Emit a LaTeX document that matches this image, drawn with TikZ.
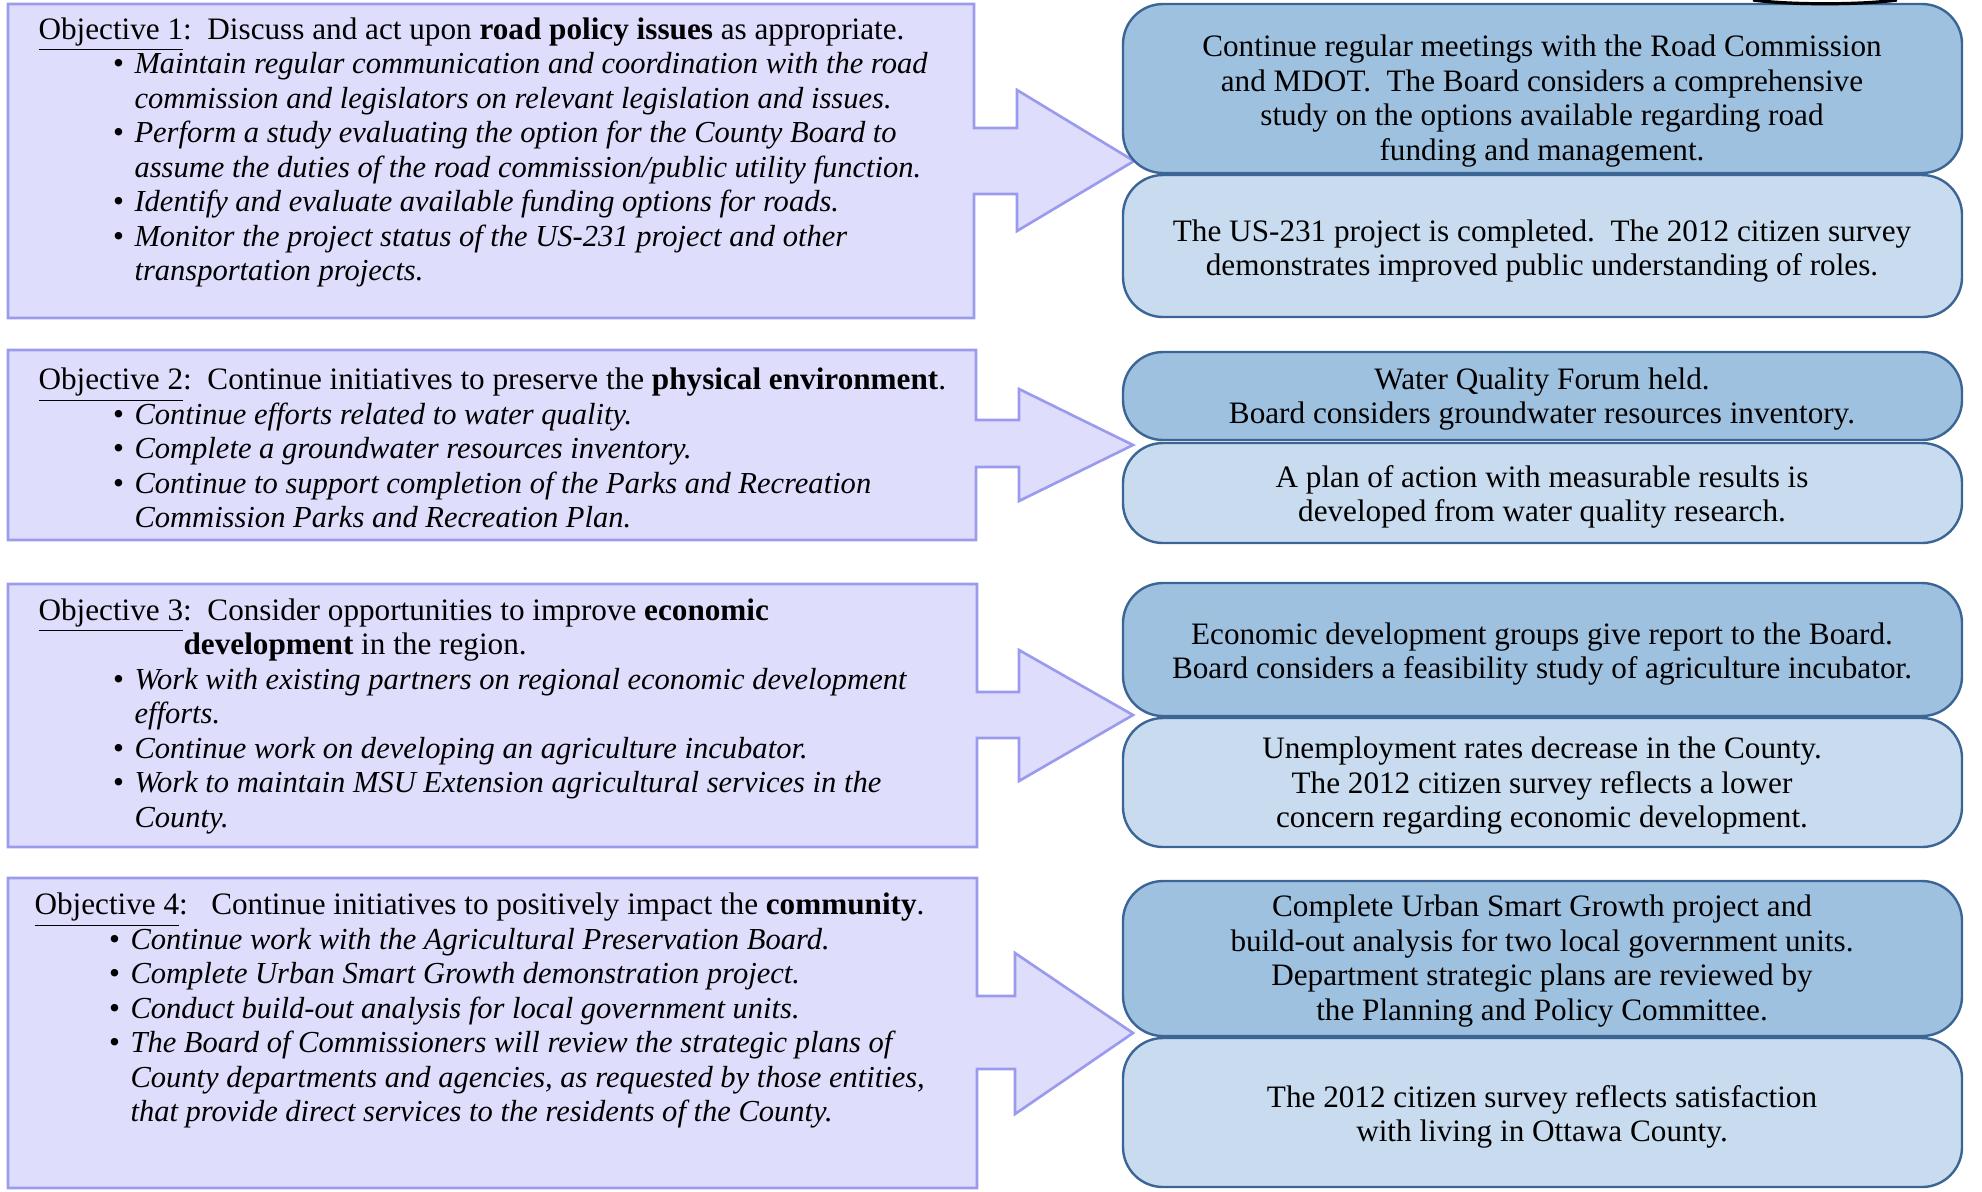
\documentclass[tikz,border=0pt]{standalone}
\usepackage{fontspec}
\setmainfont{Liberation Serif}
\definecolor{lfill}{HTML}{DEDEFC}
\definecolor{lborder}{HTML}{9B9BEE}
\definecolor{rdark}{HTML}{9FC1E0}
\definecolor{rlight}{HTML}{C9DBEE}
\definecolor{rborder}{HTML}{3A6594}
\newcommand\blt{\hspace*{28pt}\makebox[8pt][l]{\textbullet}}
\newcommand\cnt{\hspace*{36pt}}
\newcommand\itx[1]{{\fontsize{11.45}{12.94}\selectfont\itshape #1}}
\begin{document}
\begin{tikzpicture}[x=0.375pt,y=-0.375pt,
  lbox/.style={draw=lborder, fill=lfill, line width=1pt, line join=miter},
  rtop/.style={draw=rborder, fill=rdark, line width=0.9pt, rounded corners=15pt},
  rbot/.style={draw=rborder, fill=rlight, line width=0.9pt, rounded corners=15pt},
  ltext/.style={anchor=west, align=left, inner sep=0pt, font=\fontsize{11.7}{12.94}\selectfont},
  rtext/.style={align=center, inner sep=0pt, font=\fontsize{11.7}{12.94}\selectfont}]
\useasboundingbox (0,0) rectangle (1982,1191);

% left boxes with block arrows
\draw[lbox] (8,4) -- (974,4) -- (974,128) -- (1017,128) -- (1017,90) -- (1134,161)
  -- (1017,231) -- (1017,194) -- (974,194) -- (974,318) -- (8,318) -- cycle;
\draw[lbox] (8,350) -- (976,350) -- (976,420) -- (1019,420) -- (1019,389) -- (1133,445)
  -- (1019,501) -- (1019,467) -- (976,467) -- (976,540) -- (8,540) -- cycle;
\draw[lbox] (8,584) -- (977,584) -- (977,692) -- (1019,692) -- (1019,650) -- (1133,715)
  -- (1019,781) -- (1019,738) -- (977,738) -- (977,847) -- (8,847) -- cycle;
\draw[lbox] (8,878) -- (977,878) -- (977,996) -- (1015,996) -- (1015,953) -- (1133,1033)
  -- (1015,1114) -- (1015,1069) -- (977,1069) -- (977,1188) -- (8,1188) -- cycle;

% right rounded boxes
\draw[rtop] (1123,4) rectangle (1962,173);
\draw[rbot] (1123,175) rectangle (1962,317);
\draw[rtop] (1123,352) rectangle (1962,440);
\draw[rbot] (1123,443) rectangle (1962,543);
\draw[rtop] (1123,583) rectangle (1962,716);
\draw[rbot] (1123,718) rectangle (1962,847);
\draw[rtop] (1123,881) rectangle (1962,1036);
\draw[rbot] (1123,1038) rectangle (1962,1187);

% partial black ellipse at the top edge
\draw[line width=1.2pt] (1753,0) .. controls (1790,5) and (1860,5) .. (1897,0);

% left texts
\node[ltext] (o1) at (38,152.5) {\underline{Objective 1}:\ \ Discuss and act upon \textbf{road policy issues} as appropriate.\\
\blt\itx{Maintain regular communication and coordination with the road}\\
\cnt\itx{commission and legislators on relevant legislation and issues.}\\
\blt\itx{Perform a study evaluating the option for the County Board to}\\
\cnt\itx{assume the duties of the road commission/public utility function.}\\
\blt\itx{Identify and evaluate available funding options for roads.}\\
\blt\itx{Monitor the project status of the US-231 project and other}\\
\cnt\itx{transportation projects.}};

\node[ltext] (o2) at (38,448.3) {\underline{Objective 2}:\ \ Continue initiatives to preserve the \textbf{physical environment}.\\
\blt\itx{Continue efforts related to water quality.}\\
\blt\itx{Complete a groundwater resources inventory.}\\
\blt\itx{Continue to support completion of the Parks and Recreation}\\
\cnt\itx{Commission Parks and Recreation Plan.}};

\node[ltext] (o3) at (38,716.3) {\underline{Objective 3}:\ \ Consider opportunities to improve \textbf{economic}\\
\hspace*{54.4pt}\textbf{development} in the region.\\
\blt\itx{Work with existing partners on regional economic development}\\
\cnt\itx{efforts.}\\
\blt\itx{Continue work on developing an agriculture incubator.}\\
\blt\itx{Work to maintain MSU Extension agricultural services in the}\\
\cnt\itx{County.}};

\node[ltext] (o4) at (34,1010.8) {\underline{Objective 4}:\ \ \ Continue initiatives to positively impact the \textbf{community}.\\
\blt\itx{Continue work with the Agricultural Preservation Board.}\\
\blt\itx{Complete Urban Smart Growth demonstration project.}\\
\blt\itx{Conduct build-out analysis for local government units.}\\
\blt\itx{The Board of Commissioners will review the strategic plans of}\\
\cnt\itx{County departments and agencies, as requested by those entities,}\\
\cnt\itx{that provide direct services to the residents of the County.}};

% right texts
\node[rtext] (r1a) at (1542,101) {Continue regular meetings with the Road Commission\\
and MDOT.\ \ The Board considers a comprehensive\\
study on the options available regarding road\\
funding and management.};
\node[rtext] (r1b) at (1542,251) {The US-231 project is completed.\ \ The 2012 citizen survey\\
demonstrates improved public understanding of roles.};
\node[rtext] (r2a) at (1542,399) {Water Quality Forum held.\\
Board considers groundwater resources inventory.};
\node[rtext] (r2b) at (1542,497) {A plan of action with measurable results is\\
developed from water quality research.};
\node[rtext] (r3a) at (1542,654) {Economic development groups give report to the Board.\\
Board considers a feasibility study of agriculture incubator.};
\node[rtext] (r3b) at (1542,786) {Unemployment rates decrease in the County.\\
The 2012 citizen survey reflects a lower\\
concern regarding economic development.};
\node[rtext] (r4a) at (1542,961) {Complete Urban Smart Growth project and\\
build-out analysis for two local government units.\\
Department strategic plans are reviewed by\\
the Planning and Policy Committee.};
\node[rtext] (r4b) at (1542,1117) {The 2012 citizen survey reflects satisfaction\\
with living in Ottawa County.};
\end{tikzpicture}
\end{document}
